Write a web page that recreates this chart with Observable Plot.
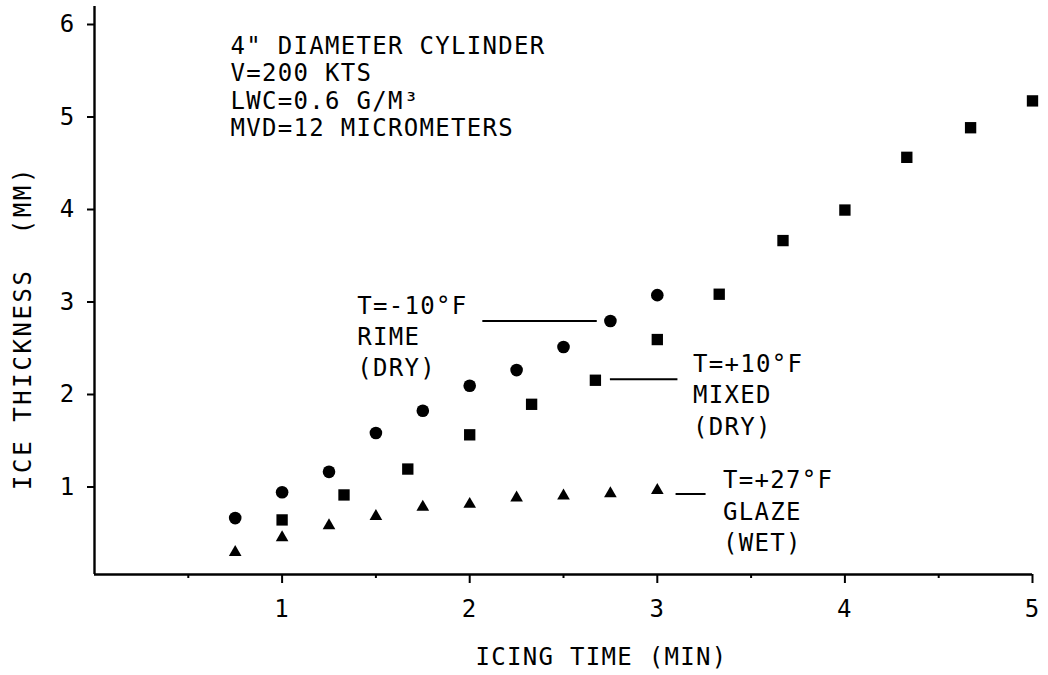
<!DOCTYPE html>
<html><head><meta charset="utf-8">
<script src="https://cdn.jsdelivr.net/npm/d3@7"></script>
<script src="https://cdn.jsdelivr.net/npm/@observablehq/plot@0.6"></script>
<style>
html,body{margin:0;padding:0;background:#fff;}
svg text{letter-spacing:1.3px;}
svg .ytitle text{letter-spacing:2.6px;}
</style></head><body><div id="chart"></div>
<script>
// Icing time (min) and ice thickness (mm) for each condition
const rimeTime = [0.75, 1, 1.25, 1.5, 1.75, 2, 2.25, 2.5, 2.75, 3];
const rimeThickness = [0.61, 0.89, 1.11, 1.53, 1.77, 2.04, 2.21, 2.46, 2.74, 3.02];
const mixedTime = [1, 1.33, 1.67, 2, 2.33, 2.67, 3, 3.33, 3.67, 4, 4.33, 4.67, 5];
const mixedThickness = [0.59, 0.86, 1.14, 1.51, 1.84, 2.10, 2.54, 3.03, 3.61, 3.94, 4.51, 4.83, 5.12];
const glazeTime = [0.75, 1, 1.25, 1.5, 1.75, 2, 2.25, 2.5, 2.75, 3];
const glazeThickness = [0.24, 0.40, 0.53, 0.63, 0.73, 0.76, 0.83, 0.85, 0.875, 0.91];

const xMajorTicks = [1, 2, 3, 4, 5];
const xMinorTicks = [0.5, 1.5, 2.5, 3.5, 4.5];
const yMajorTicks = [1, 2, 3, 4, 5, 6];

const xTitle = "ICING TIME (MIN)";
const yTitle = "ICE THICKNESS  (MM)";
const conditionsText = ['4" DIAMETER CYLINDER', "V=200 KTS", "LWC=0.6 G/M³", "MVD=12 MICROMETERS"];

// annotation labels and leader lines (data units)
const seriesLabels = ["T=-10°F\nRIME\n(DRY)", "T=+10°F\nMIXED\n(DRY)", "T=+27°F\nGLAZE\n(WET)"];
const labelAnchorX = [1.40, 3.19, 3.35];
const labelAnchorY = [2.59, 1.96, 0.70];
const leaderX1 = [2.07, 2.75, 3.10];
const leaderX2 = [2.68, 3.11, 3.26];
const leaderY = [2.74, 2.11, 0.87];
const yAxisTop = 6.14;

const toRows = (ts, vs) => ts.map((t, i) => ({t, v: vs[i]}));
const rime = toRows(rimeTime, rimeThickness);
const mixed = toRows(mixedTime, mixedThickness);
const glaze = toRows(glazeTime, glazeThickness);

const FS = 24;
const chart = Plot.plot({
  width: 1048,
  height: 675,
  marginLeft: 94,
  marginRight: 16,
  marginTop: 19,
  marginBottom: 101,
  x: {domain: [0, 5], axis: null},
  y: {domain: [0, 6], axis: null},
  style: {fontFamily: "DejaVu Sans Mono", background: "#fff", color: "#000"},
  marks: [
    Plot.ruleY([0], {x1: 0, x2: 5, stroke: "#000", strokeWidth: 2.4}),
    Plot.ruleX([0], {y1: 0, y2: yAxisTop, stroke: "#000", strokeWidth: 2.4}),
    Plot.axisX(xMajorTicks, {tickSize: 9, tickPadding: 16, fontSize: FS, strokeWidth: 2, label: null, tickFormat: d => String(d)}),
    Plot.axisX(xMinorTicks, {tickSize: 4, tickPadding: 0, strokeWidth: 2, label: null, tickFormat: () => ""}),
    Plot.axisY(yMajorTicks, {tickSize: 7, tickPadding: 12, fontSize: FS, strokeWidth: 2, dy: 5, label: null, tickFormat: d => String(d)}),
    Plot.text([yTitle], {frameAnchor: "left", rotate: -90, dx: -71, dy: 31, fontSize: FS, textAnchor: "middle", lineAnchor: "middle", className: "ytitle"}),
    Plot.text([xTitle], {frameAnchor: "bottom", dx: 38, dy: 83, fontSize: FS, textAnchor: "middle", lineAnchor: "middle"}),
    Plot.text([conditionsText.join("\n")], {frameAnchor: "top-left", dx: 136, dy: 15, fontSize: FS, textAnchor: "start", lineAnchor: "top", lineHeight: 1.14}),
    Plot.ruleY(leaderY, {x1: leaderX1, x2: leaderX2, stroke: "#000", strokeWidth: 2}),
    Plot.text(seriesLabels, {x: labelAnchorX, y: labelAnchorY, fontSize: FS, textAnchor: "start", lineAnchor: "middle", lineHeight: 1.31}),
    Plot.dot(rime, {x: "t", y: "v", r: 6.3, symbol: "circle", fill: "#000", stroke: "none"}),
    Plot.dot(mixed, {x: "t", y: "v", r: 6.4, symbol: "square", fill: "#000", stroke: "none"}),
    Plot.dot(glaze, {x: "t", y: "v", r: 4.7, symbol: "triangle", fill: "#000", stroke: "none"})
  ]
});
document.getElementById("chart").appendChild(chart);
</script>
</body></html>
